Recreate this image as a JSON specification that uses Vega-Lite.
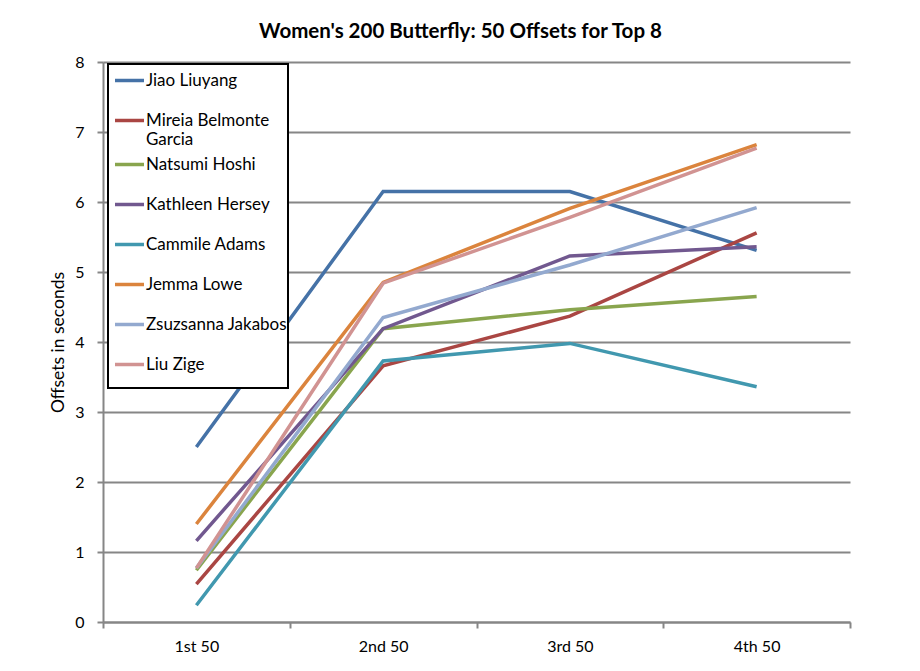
{
  "$schema": "https://vega.github.io/schema/vega-lite/v6.json",
  "autosize": {"type": "none"},
  "width": 747,
  "height": 560,
  "padding": {"left": 103, "top": 62, "right": 70, "bottom": 49},
  "background": "white",
  "title": {
    "text": "Women's 200 Butterfly: 50 Offsets for Top 8",
    "font": "Lato",
    "fontSize": 20.5,
    "fontWeight": "bold",
    "color": "black",
    "anchor": "middle",
    "dx": -16,
    "offset": 12
  },
  "config": {
    "view": {"stroke": null},
    "font": "Lato"
  },
  "data": {
    "values": [
      {"swimmer": "Jiao Liuyang", "split": "1st 50", "offset": 2.50},
      {"swimmer": "Jiao Liuyang", "split": "2nd 50", "offset": 6.15},
      {"swimmer": "Jiao Liuyang", "split": "3rd 50", "offset": 6.15},
      {"swimmer": "Jiao Liuyang", "split": "4th 50", "offset": 5.31},
      {"swimmer": "Mireia Belmonte Garcia", "split": "1st 50", "offset": 0.54},
      {"swimmer": "Mireia Belmonte Garcia", "split": "2nd 50", "offset": 3.66},
      {"swimmer": "Mireia Belmonte Garcia", "split": "3rd 50", "offset": 4.37},
      {"swimmer": "Mireia Belmonte Garcia", "split": "4th 50", "offset": 5.56},
      {"swimmer": "Natsumi Hoshi", "split": "1st 50", "offset": 0.74},
      {"swimmer": "Natsumi Hoshi", "split": "2nd 50", "offset": 4.19},
      {"swimmer": "Natsumi Hoshi", "split": "3rd 50", "offset": 4.46},
      {"swimmer": "Natsumi Hoshi", "split": "4th 50", "offset": 4.65},
      {"swimmer": "Kathleen Hersey", "split": "1st 50", "offset": 1.16},
      {"swimmer": "Kathleen Hersey", "split": "2nd 50", "offset": 4.19},
      {"swimmer": "Kathleen Hersey", "split": "3rd 50", "offset": 5.23},
      {"swimmer": "Kathleen Hersey", "split": "4th 50", "offset": 5.36},
      {"swimmer": "Cammile Adams", "split": "1st 50", "offset": 0.24},
      {"swimmer": "Cammile Adams", "split": "2nd 50", "offset": 3.73},
      {"swimmer": "Cammile Adams", "split": "3rd 50", "offset": 3.98},
      {"swimmer": "Cammile Adams", "split": "4th 50", "offset": 3.36},
      {"swimmer": "Jemma Lowe", "split": "1st 50", "offset": 1.40},
      {"swimmer": "Jemma Lowe", "split": "2nd 50", "offset": 4.85},
      {"swimmer": "Jemma Lowe", "split": "3rd 50", "offset": 5.91},
      {"swimmer": "Jemma Lowe", "split": "4th 50", "offset": 6.82},
      {"swimmer": "Zsuzsanna Jakabos", "split": "1st 50", "offset": 0.77},
      {"swimmer": "Zsuzsanna Jakabos", "split": "2nd 50", "offset": 4.35},
      {"swimmer": "Zsuzsanna Jakabos", "split": "3rd 50", "offset": 5.10},
      {"swimmer": "Zsuzsanna Jakabos", "split": "4th 50", "offset": 5.92},
      {"swimmer": "Liu Zige", "split": "1st 50", "offset": 0.77},
      {"swimmer": "Liu Zige", "split": "2nd 50", "offset": 4.84},
      {"swimmer": "Liu Zige", "split": "3rd 50", "offset": 5.78},
      {"swimmer": "Liu Zige", "split": "4th 50", "offset": 6.77}
    ]
  },
  "mark": {"type": "line", "strokeWidth": 3.5, "strokeCap": "butt", "strokeJoin": "miter"},
  "encoding": {
    "x": {
      "field": "split",
      "type": "ordinal",
      "scale": {"type": "band", "paddingInner": 0, "paddingOuter": 0},
      "axis": {
        "title": null,
        "labelAngle": 0,
        "labelFont": "Lato",
        "labelFontSize": 16,
        "labelColor": "black",
        "labelPadding": 10,
        "tickBand": "extent",
        "tickSize": 6,
        "tickColor": "#868686",
        "tickWidth": 2,
        "domainColor": "#868686",
        "domainWidth": 2,
        "grid": false
      }
    },
    "y": {
      "field": "offset",
      "type": "quantitative",
      "scale": {"domain": [0, 8], "nice": false},
      "axis": {
        "title": "Offsets in seconds",
        "titleFont": "Lato",
        "titleFontSize": 17.5,
        "titleFontWeight": "normal",
        "titleColor": "black",
        "titlePadding": 7,
        "values": [0, 1, 2, 3, 4, 5, 6, 7, 8],
        "labelFont": "Lato",
        "labelFontSize": 16,
        "labelColor": "black",
        "labelPadding": 13,
        "tickSize": 6,
        "tickColor": "#868686",
        "tickWidth": 2,
        "domainColor": "#868686",
        "domainWidth": 2,
        "grid": true,
        "gridColor": "#868686",
        "gridWidth": 2
      }
    },
    "color": {
      "field": "swimmer",
      "type": "nominal",
      "sort": null,
      "scale": {
        "domain": ["Jiao Liuyang", "Mireia Belmonte Garcia", "Natsumi Hoshi", "Kathleen Hersey", "Cammile Adams", "Jemma Lowe", "Zsuzsanna Jakabos", "Liu Zige"],
        "range": ["#4572A7", "#AA4643", "#89A54E", "#71588F", "#4198AF", "#DB843D", "#93A9CF", "#D19392"]
      },
      "legend": {
        "title": null,
        "orient": "none",
        "legendX": 5,
        "legendY": 2,
        "fillColor": "white",
        "strokeColor": "black",
        "padding": 0,
        "symbolType": "stroke",
        "symbolSize": 841,
        "symbolStrokeWidth": 3.5,
        "symbolOffset": 5,
        "labelFont": "Lato",
        "labelFontSize": 17,
        "labelColor": "black",
        "labelOffset": 0,
        "labelLimit": 220,
        "rowPadding": 0,
        "labelExpr": "datum.label == 'Mireia Belmonte Garcia' ? ['Mireia Belmonte', 'Garcia'] : [datum.label, '']",
        "encode": {
          "labels": {"update": {"lineHeight": {"signal": "datum.value === 'Mireia Belmonte Garcia' ? 19 : 15"}}},
          "legend": {"update": {"strokeWidth": {"value": 2}, "width": {"value": 184}}}
        }
      }
    }
  }
}
